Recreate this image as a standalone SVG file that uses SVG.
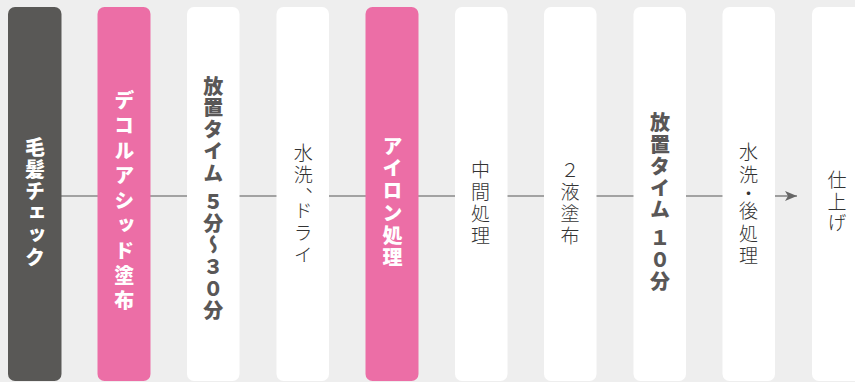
<svg xmlns="http://www.w3.org/2000/svg" width="855" height="382" viewBox="0 0 855 382">
<defs>
<marker id="ah" viewBox="0 0 12 10" refX="12" refY="5" markerWidth="12" markerHeight="10" markerUnits="userSpaceOnUse" orient="auto">
<path d="M0,0 L12,5 L0,10 L3,5 Z" fill="#666"/>
</marker>
<style>
.card{fill:#fff}
.dark{fill:#595856}
.pink{fill:#ec6ea6}
.t{font-family:"Noto Sans CJK JP","Noto Sans CJK SC",sans-serif;writing-mode:vertical-rl;text-anchor:middle;dominant-baseline:central}
.b{font-weight:900;font-size:20px}
.r{font-weight:300;font-size:19px;fill:#333}
.w{fill:#fff}
.g{fill:#595757}
.ln{stroke:#888;stroke-width:1.6;fill:none}
</style>
</defs>
<rect width="855" height="382" fill="#eeeeee"/>
<g id="connectors">
<line class="ln" x1="61" y1="196" x2="98" y2="196"/>
<line class="ln" x1="150" y1="196" x2="187" y2="196"/>
<line class="ln" x1="239" y1="196" x2="277" y2="196"/>
<line class="ln" x1="328" y1="196" x2="366" y2="196"/>
<line class="ln" x1="418" y1="196" x2="455" y2="196"/>
<line class="ln" x1="507" y1="196" x2="544" y2="196"/>
<line class="ln" x1="596" y1="196" x2="634" y2="196"/>
<line class="ln" x1="686" y1="196" x2="723" y2="196"/>
<line class="ln" x1="775" y1="196" x2="797" y2="196" stroke="#777" marker-end="url(#ah)"/>
</g>
<g id="n1"><rect class="dark" x="8" y="7" width="53.5" height="374" rx="7"/><text class="t b w" x="35" y="203" letter-spacing="2">毛髪チェック</text></g>
<g id="n2"><rect class="pink" x="97.5" y="7" width="53" height="374" rx="7"/><text class="t b w" x="124.3" y="203" letter-spacing="5">デコルアシッド塗布</text></g>
<g id="n3"><rect class="card" x="187" y="7" width="52.5" height="374" rx="7"/><text class="t b g" x="213.3" y="199" letter-spacing="1.8">放置タイム ５分～３０分</text></g>
<g id="n4"><rect class="card" x="276.5" y="7" width="52.5" height="374" rx="7"/><text class="t r" x="303.3" y="205" letter-spacing="3.2">水洗、<tspan dy="-9">ドライ</tspan></text></g>
<g id="n5"><rect class="pink" x="365.5" y="7" width="53" height="374" rx="7"/><text class="t b w" x="392.5" y="203" letter-spacing="2.2">アイロン処理</text></g>
<g id="n6"><rect class="card" x="455" y="7" width="52.5" height="374" rx="7"/><text class="t r" x="480.5" y="204" letter-spacing="3">中間処理</text></g>
<g id="n7"><rect class="card" x="544" y="7" width="52.5" height="374" rx="7"/><text class="t r" x="570" y="204" letter-spacing="3">２液塗布</text></g>
<g id="n8"><rect class="card" x="633.5" y="7" width="52.5" height="374" rx="7"/><text class="t b g" x="660" y="203" letter-spacing="1.8">放置タイム １０分</text></g>
<g id="n9"><rect class="card" x="722.5" y="7" width="52.5" height="374" rx="7"/><text class="t r" x="748.5" y="206" letter-spacing="3.8">水洗<tspan dy="-4">・</tspan><tspan dy="-5">後処理</tspan></text></g>
<g id="n10"><rect class="card" x="812" y="7" width="60" height="374" rx="7"/><text class="t r" x="837" y="203" letter-spacing="2.5">仕上げ</text></g>
</svg>
